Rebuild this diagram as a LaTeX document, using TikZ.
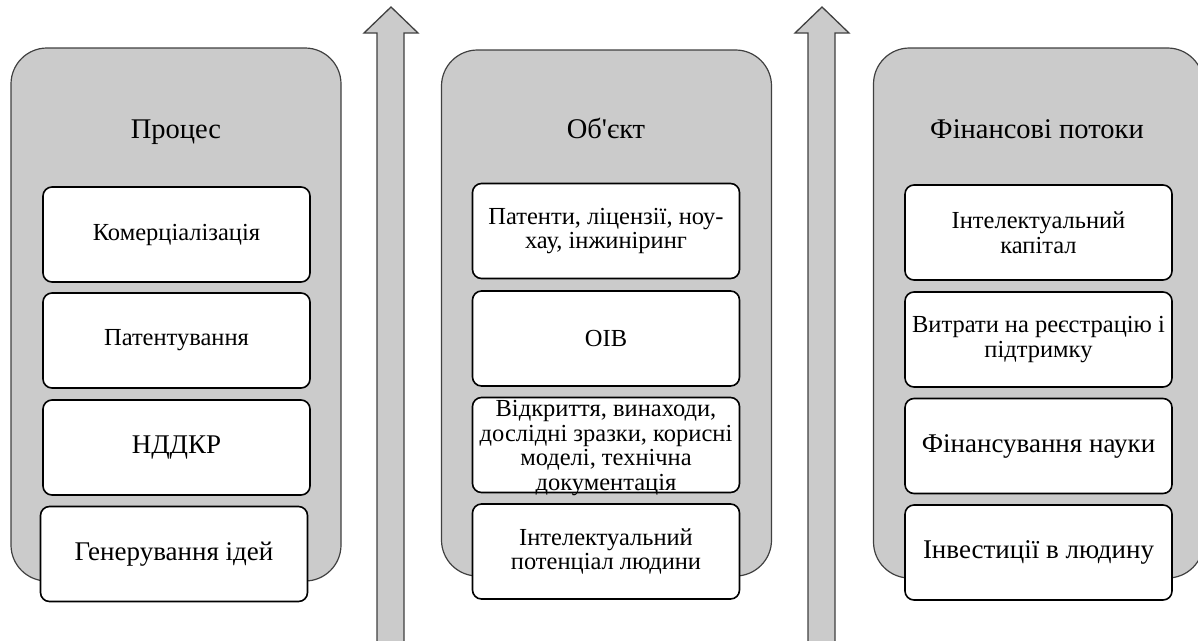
\documentclass[tikz,border=0pt]{standalone}
\usepackage{fontspec}
\setmainfont{Liberation Serif}
\definecolor{panelgray}{RGB}{203,203,203}
\definecolor{edgegray}{RGB}{64,64,64}
\begin{document}
\begin{tikzpicture}[x=1pt,y=-1pt,
  panel/.style={draw=edgegray,line width=1.2pt,fill=panelgray,rounded corners=36pt,
    minimum width=330pt,inner sep=0pt},
  item/.style={draw=black,line width=1.6pt,fill=white,rounded corners=9pt,
    minimum width=267pt,minimum height=95pt,inner sep=0pt,align=center,
    font=\fontsize{24.5}{24.5}\selectfont},
  bigitem/.style={item,font=\fontsize{27}{28}\selectfont},
  title/.style={inner sep=0pt,anchor=base,font=\fontsize{28.5}{30}\selectfont},
  arrowbody/.style={draw=edgegray,line width=1.3pt,fill=panelgray,line join=miter}]
\useasboundingbox (0,0) rectangle (1198,640);
\clip (0,0) rectangle (1198,640);
% upward arrows
\draw [arrowbody] (377,650) -- (377,33) -- (364,33) -- (391,7) -- (418,33) -- (404,33) -- (404,650);
\draw [arrowbody] (808,650) -- (808,33) -- (795,33) -- (822,7) -- (849,33) -- (835,33) -- (835,650);
% process
\node [panel,minimum height=533pt] (proc) at (176,314.5) {};
\node [title] (procT) at (176,138) {Процес};
\node [item] (comm) at (176.5,234.5) {Комерціалізація};
\node [item] (pat) at (176.5,340.5) {Патентування};
\node [bigitem] (rnd) at (176.5,447.5) {НДДКР};
\node [bigitem] (gen) at (174,554) {Генерування ідей};
% object
\node [panel,minimum height=526pt] (obj) at (606.5,313) {};
\node [title] (objT) at (606,138) {Об\textquotesingle єкт};
\node [item] (lic) at (606,231) {Патенти, ліцензії, ноу-\\хау, інжиніринг};
\node [item] (oiv) at (606,338.5) {OIB};
\node [item] (inv) at (606,445) {};
\node [align=center,inner sep=0pt,font=\fontsize{24.5}{24.5}\selectfont] (invT) at (606,448)
  {Відкриття, винаходи,\\дослідні зразки, корисні\\моделі, технічна\\документація};
\node [item] (pot) at (606,551.5) {Інтелектуальний\\потенціал людини};
% finance
\node [panel,minimum height=530pt] (fin) at (1038.5,313) {};
\node [title] (finT) at (1037,138) {Фінансові потоки};
\node [item] (cap) at (1038.5,232.5) {Інтелектуальний\\капітал};
\node [item] (cost) at (1038.5,339.5) {Витрати на реєстрацію і\\підтримку};
\node [bigitem] (sci) at (1038.5,446) {Фінансування науки};
\node [bigitem] (hum) at (1038.5,552.5) {Інвестиції в людину};
\end{tikzpicture}
\end{document}
